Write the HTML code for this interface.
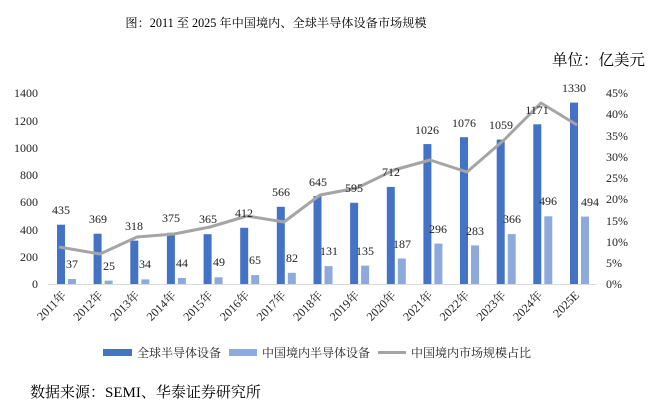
<!DOCTYPE html>
<html><head><meta charset="utf-8"><style>
html,body{margin:0;padding:0;background:#fff;}
svg{display:block;font-family:"Liberation Serif","Noto Serif CJK SC",serif;}
</style></head><body>
<svg width="650" height="404" viewBox="0 0 650 404" xmlns="http://www.w3.org/2000/svg">
<text x="276" y="27" font-size="12.2" text-anchor="middle" fill="#000">图：2011 至 2025 年中国境内、全球半导体设备市场规模</text>
<text x="645" y="65" font-size="15.5" text-anchor="end" fill="#000">单位：亿美元</text>
<g font-size="12" fill="#222" text-anchor="end">
<text x="38" y="97">1400</text><text x="38" y="125">1200</text><text x="38" y="152">1000</text>
<text x="38" y="179">800</text><text x="38" y="206">600</text><text x="38" y="234">400</text>
<text x="38" y="261">200</text><text x="38" y="288">0</text>
</g>
<g font-size="12" fill="#222" text-anchor="start">
<text x="606" y="97">45%</text><text x="606" y="118">40%</text><text x="606" y="140">35%</text>
<text x="606" y="161">30%</text><text x="606" y="182">25%</text><text x="606" y="203">20%</text>
<text x="606" y="225">15%</text><text x="606" y="246">10%</text><text x="606" y="267">5%</text><text x="606" y="288">0%</text>
</g>
<line x1="48" y1="284.5" x2="597" y2="284.5" stroke="#d9d9d9" stroke-width="1"/>
<g fill="#4472c4">
<rect x="57" y="224.7" width="8" height="59.3"/><rect x="93.6" y="233.7" width="8" height="50.3"/>
<rect x="130.3" y="240.6" width="8" height="43.4"/><rect x="166.9" y="232.8" width="8" height="51.2"/>
<rect x="203.6" y="234.2" width="8" height="49.8"/><rect x="240.2" y="227.8" width="8" height="56.2"/>
<rect x="276.8" y="206.8" width="8" height="77.2"/><rect x="313.5" y="196" width="8" height="88"/>
<rect x="350.1" y="202.8" width="8" height="81.2"/><rect x="386.8" y="186.9" width="8" height="97.1"/>
<rect x="423.4" y="144.1" width="8" height="139.9"/><rect x="460" y="137.2" width="8" height="146.8"/>
<rect x="496.7" y="139.6" width="8" height="144.4"/><rect x="533.3" y="124.3" width="8" height="159.7"/>
<rect x="570" y="102.6" width="8" height="181.4"/>
</g>
<g fill="#8eaadc">
<rect x="68" y="279" width="8" height="5"/><rect x="104.6" y="280.6" width="8" height="3.4"/>
<rect x="141.3" y="279.4" width="8" height="4.6"/><rect x="177.9" y="278" width="8" height="6"/>
<rect x="214.6" y="277.3" width="8" height="6.7"/><rect x="251.2" y="275.1" width="8" height="8.9"/>
<rect x="287.8" y="272.8" width="8" height="11.2"/><rect x="324.5" y="266.1" width="8" height="17.9"/>
<rect x="361.1" y="265.6" width="8" height="18.4"/><rect x="397.8" y="258.5" width="8" height="25.5"/>
<rect x="434.4" y="243.6" width="8" height="40.4"/><rect x="471" y="245.4" width="8" height="38.6"/>
<rect x="507.7" y="234.1" width="8" height="49.9"/><rect x="544.3" y="216.3" width="8" height="67.7"/>
<rect x="581" y="216.6" width="8" height="67.4"/>
</g>
<polyline fill="none" stroke="#a5a5a5" stroke-width="3" stroke-linejoin="round"
points="59,247 100,254 137,237 174,234 210,227 247,216 284,222 320,195 357,188 394,170 430,160 467,172 504,140 541,103 577,125"/>
<g font-size="12" fill="#222" text-anchor="middle">
<text x="61" y="214">435</text><text x="98" y="223">369</text><text x="134" y="230">318</text>
<text x="171" y="222">375</text><text x="208" y="223">365</text><text x="244" y="217">412</text>
<text x="281" y="196">566</text><text x="318" y="186">645</text><text x="354" y="192">595</text>
<text x="391" y="176">712</text><text x="427" y="134">1026</text><text x="464" y="127">1076</text>
<text x="501" y="129">1059</text><text x="537" y="114">1171</text><text x="574" y="92">1330</text>
<text x="72" y="268">37</text><text x="109" y="270">25</text><text x="145" y="268">34</text>
<text x="182" y="267">44</text><text x="219" y="266">49</text><text x="255" y="264">65</text>
<text x="292" y="262">82</text><text x="329" y="255">131</text><text x="365" y="255">135</text>
<text x="402" y="248">187</text><text x="438" y="233">296</text><text x="475" y="235">283</text>
<text x="512" y="223">366</text><text x="548" y="205">496</text><text x="590" y="206">494</text>
</g>
<g font-size="12" fill="#222" text-anchor="end">
<text transform="translate(67,296) rotate(-45)">2011年</text>
<text transform="translate(103.6,296) rotate(-45)">2012年</text>
<text transform="translate(140.3,296) rotate(-45)">2013年</text>
<text transform="translate(176.9,296) rotate(-45)">2014年</text>
<text transform="translate(213.6,296) rotate(-45)">2015年</text>
<text transform="translate(250.2,296) rotate(-45)">2016年</text>
<text transform="translate(286.8,296) rotate(-45)">2017年</text>
<text transform="translate(323.5,296) rotate(-45)">2018年</text>
<text transform="translate(360.1,296) rotate(-45)">2019年</text>
<text transform="translate(396.8,296) rotate(-45)">2020年</text>
<text transform="translate(433.4,296) rotate(-45)">2021年</text>
<text transform="translate(470,296) rotate(-45)">2022年</text>
<text transform="translate(506.7,296) rotate(-45)">2023年</text>
<text transform="translate(543.3,296) rotate(-45)">2024年</text>
<text transform="translate(580,296) rotate(-45)">2025E</text>
</g>
<rect x="103" y="349" width="29" height="7" fill="#4472c4"/>
<text x="137" y="357" font-size="12" fill="#222">全球半导体设备</text>
<rect x="229" y="349" width="28" height="7" fill="#8eaadc"/>
<text x="262" y="357" font-size="12" fill="#222">中国境内半导体设备</text>
<line x1="378" y1="352.5" x2="406" y2="352.5" stroke="#a5a5a5" stroke-width="3"/>
<text x="411" y="357" font-size="12" fill="#222">中国境内市场规模占比</text>
<text x="30" y="397" font-size="15" fill="#000">数据来源：SEMI、华泰证券研究所</text>
</svg>
</body></html>
